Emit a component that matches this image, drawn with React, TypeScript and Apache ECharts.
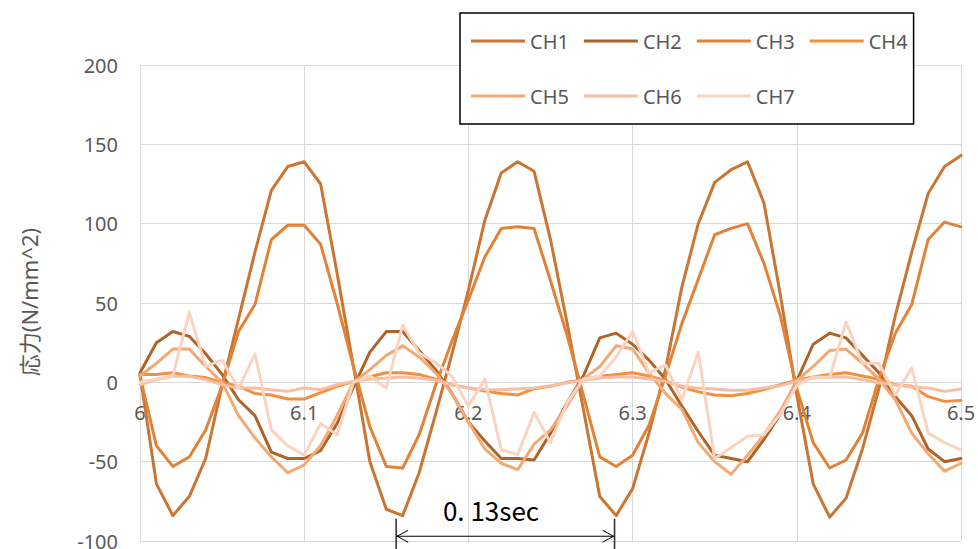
import React, { useEffect, useRef } from "react";
import * as echarts from "echarts";

// Sample times (sec)
const times = [
  6.0, 6.01, 6.02, 6.03, 6.04, 6.05, 6.06, 6.07, 6.08, 6.09,
  6.1, 6.11, 6.12, 6.13, 6.14, 6.15, 6.16, 6.17, 6.18, 6.19,
  6.2, 6.21, 6.22, 6.23, 6.24, 6.25, 6.26, 6.27, 6.28, 6.29,
  6.3, 6.31, 6.32, 6.33, 6.34, 6.35, 6.36, 6.37, 6.38, 6.39,
  6.4, 6.41, 6.42, 6.43, 6.44, 6.45, 6.46, 6.47, 6.48, 6.49, 6.5,
];

// Stress per channel (N/mm^2)
const ch1 = [
  5, -64, -84, -72, -48, -2, 40, 82, 121, 136,
  139, 125, 69, 10, -50, -80, -84, -57, -20, 18,
  58, 102, 132, 139, 133, 90, 38, -17, -72, -84,
  -67, -32, 8, 60, 100, 126, 134, 139, 113, 55,
  -8, -64, -85, -73, -42, -4, 42, 82, 119, 136, 143,
];
const ch2 = [
  6, 25, 32, 29, 18, 5, -11, -21, -44, -48,
  -48, -43, -26, -3, 19, 32, 32, 20, 8, -7,
  -25, -37, -48, -48, -49, -32, -13, 4, 28, 31,
  24, 14, 2, -15, -31, -46, -48, -50, -36, -20,
  1, 24, 31, 28, 17, 6, -9, -21, -42, -50, -48,
];
const ch3 = [
  4, -40, -53, -47, -30, -2, 32, 49, 90, 99,
  99, 87, 50, 10, -28, -53, -54, -33, -2, 26,
  52, 79, 97, 98, 97, 64, 30, -8, -47, -53,
  -46, -27, 4, 37, 65, 93, 97, 100, 75, 42,
  -4, -38, -54, -49, -32, 2, 31, 49, 90, 101, 98,
];
const ch4 = [
  5, 5, 6, 4, 3, 0, -2.5, -7, -8, -10.5,
  -10.5, -6.5, -2.5, 0.5, 3.5, 6, 6, 5, 2, -1.5,
  -3.5, -5.5, -7, -8, -4, -2.5, 0, 1.7, 3.8, 5,
  6, 4, 1, -3, -6, -8, -8.5, -7, -4.5, -1.5,
  1.3, 3.4, 5, 6, 4, 2, -1.5, -2.5, -9, -12, -11.5,
];
const ch5 = [
  4, 12, 21, 21, 10, 0, -21, -35, -47, -57,
  -52, -40, -21, 0, 8, 17, 23, 16, 6, -7,
  -25, -42, -51, -55, -39, -30, -15, 2, 10, 23,
  21, 6, -7, -17, -38, -50, -58, -46, -33, -18,
  1, 10, 20, 21, 12, 2, -11, -32, -45, -56, -51,
];
const ch6 = [
  -1.5, 1.7, 3.8, 3.8, 1.7, -1.5, -3.6, -3.6, -4.6, -5.7,
  -3.6, -4.6, -1.5, 0.6, 2.1, 2.7, 3.4, 2.7, 1.3, -1.5,
  -3.6, -4.5, -4.6, -4.2, -3.6, -2.1, -0.4, 1.3, 2.7, 3.4,
  3.4, 2.1, 0.6, -2.5, -3.6, -4.2, -5, -5, -3.6, -2.1,
  0.6, 2.7, 3.4, 3.4, 1.7, -0.4, -1.5, -3, -3.6, -5.7, -4.2,
];
const ch7 = [
  0, 2, 4, 44, 10, 14, -4, 18, -30, -40,
  -46, -26, -33, 0, 4, -3.6, 36, 18.5, 12.6, 3.8,
  -15, 2, -42.5, -45.6, -19, -38, -13, 2, 4, 16,
  32, 6, 11, -11, 19, -48, -41, -34, -33, -20,
  -2, 3.4, 3, 38, 12, 12, -8, 9, -32, -38, -42.5,
];

const channelNames = ["CH1", "CH2", "CH3", "CH4", "CH5", "CH6", "CH7"];
const channelValues = [ch1, ch2, ch3, ch4, ch5, ch6, ch7];
const channelColors = [
  "#CA7532",
  "#AE6429",
  "#E28238",
  "#F1913E",
  "#F4A874",
  "#F7BEA3",
  "#FAD4C0",
];

// Period marker (sec) and its label
const periodStart = 6.156;
const periodEnd = 6.289;
const periodLabel = "0. 13sec";

const FONT = "'Noto Sans', 'Noto Sans CJK JP', sans-serif";
const GRID_BOTTOM = 8;
const CHART_H = 549;

export default function App() {
  const ref = useRef<HTMLDivElement>(null);

  useEffect(() => {
    if (!ref.current) return;
    const chart = echarts.init(ref.current, null, { renderer: "svg" });

    const series = channelNames.map((name, k) => ({
      name,
      type: "line",
      data: times.map((t, i) => [t, channelValues[k][i]]),
      showSymbol: false,
      symbol: "none",
      color: channelColors[k],
      lineStyle: { width: 3, color: channelColors[k], cap: "round", join: "round" },
    }));

    const baseOption: any = {
      animation: false,
      backgroundColor: "#ffffff",
      grid: {
        left: 140,
        right: 17,
        top: 65,
        bottom: GRID_BOTTOM,
        containLabel: false,
        outerBoundsMode: "none",
      },
      xAxis: {
        type: "value",
        min: 6,
        max: 6.5,
        interval: 0.1,
        axisLine: { show: false, onZero: false },
        axisTick: { show: false },
        axisLabel: { fontFamily: FONT, fontSize: 20, color: "#595959", margin: 20 },
        splitLine: { show: true, lineStyle: { color: "#D9D9D9", width: 1 } },
      },
      yAxis: {
        type: "value",
        min: -100,
        max: 200,
        interval: 50,
        axisLine: { show: false },
        axisTick: { show: false },
        axisLabel: { fontFamily: FONT, fontSize: 20, color: "#595959", margin: 22 },
        splitLine: { show: true, lineStyle: { color: "#D9D9D9", width: 1 } },
      },
      legend: {
        data: channelNames,
        left: 460,
        top: 13,
        width: 470,
        padding: [8, 6, 8, 11],
        icon: "rect",
        itemWidth: 54,
        itemHeight: 3,
        itemGap: 15,
        borderColor: "#000000",
        borderWidth: 1.5,
        backgroundColor: "#ffffff",
        textStyle: { fontFamily: FONT, fontSize: 20, color: "#595959", lineHeight: 40 },
      },
      series,
    };
    chart.setOption(baseOption);

    // Lift the time labels up to the zero line
    const [, yZero] = chart.convertToPixel({ gridIndex: 0 }, [6, 0]) as number[];
    const lift = CHART_H - GRID_BOTTOM - yZero;
    chart.setOption({ xAxis: { offset: -lift } });

    const [xs, ya] = chart.convertToPixel({ gridIndex: 0 }, [periodStart, -97]) as number[];
    const [xe] = chart.convertToPixel({ gridIndex: 0 }, [periodEnd, -97]) as number[];
    const [, yTop] = chart.convertToPixel({ gridIndex: 0 }, [periodStart, -86]) as number[];
    const yBottom = CHART_H;
    const head = 12;

    chart.setOption({
      graphic: [
        {
          type: "text",
          x: 29,
          y: 302,
          rotation: Math.PI / 2,
          style: {
            text: "応力(N/mm^2)",
            fill: "#595959",
            font: `22px ${FONT}`,
            align: "center",
            verticalAlign: "middle",
          },
        },
        {
          type: "line",
          shape: { x1: xs, y1: yTop, x2: xs, y2: yBottom },
          style: { stroke: "#333333", lineWidth: 1.6 },
        },
        {
          type: "line",
          shape: { x1: xe, y1: yTop, x2: xe, y2: yBottom },
          style: { stroke: "#333333", lineWidth: 1.6 },
        },
        {
          type: "line",
          shape: { x1: xs, y1: ya, x2: xe, y2: ya },
          style: { stroke: "#000000", lineWidth: 1 },
        },
        {
          type: "polyline",
          shape: { points: [[xs + head, ya - 6], [xs + 1, ya], [xs + head, ya + 6]] },
          style: { stroke: "#000000", lineWidth: 1, fill: null },
        },
        {
          type: "polyline",
          shape: { points: [[xe - head, ya - 6], [xe - 1, ya], [xe - head, ya + 6]] },
          style: { stroke: "#000000", lineWidth: 1, fill: null },
        },
        {
          type: "text",
          x: 491,
          y: 509,
          style: {
            text: periodLabel,
            fill: "#000000",
            font: `26px 'Noto Sans CJK JP', sans-serif`,
            align: "center",
            verticalAlign: "middle",
          },
        },
      ],
    });

    return () => chart.dispose();
  }, []);

  return (
    <div
      ref={ref}
      style={{ position: "absolute", left: 0, top: 0, width: 978, height: CHART_H }}
    />
  );
}
